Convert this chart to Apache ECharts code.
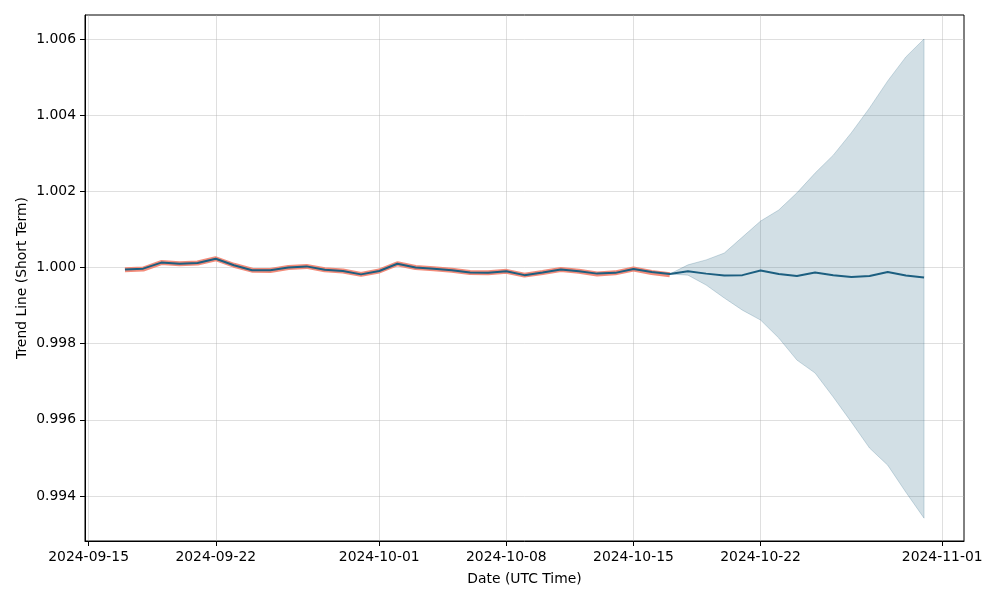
<!DOCTYPE html>
<html>
<head>
<meta charset="utf-8">
<title>Trend Line (Short Term)</title>
<script src="https://cdn.jsdelivr.net/npm/echarts@6.0.0/dist/echarts.min.js"></script>
<style>
  html, body { margin: 0; padding: 0; background: #fff; }
  #main { width: 1000px; height: 600px; }
</style>
</head>
<body>
<div id="main"></div>
<script>
// history: 2024-09-17 .. 2024-10-17, forecast: 2024-10-17 .. 2024-10-31
var histStart = "2024-09-17";
var bandStart = "2024-10-17";

var trend = [
  0.99995, 0.99997, 1.00013, 1.00010, 1.00012, 1.00023, 1.00006, 0.99993, 0.99993, 1.00000,
  1.00003, 0.99994, 0.99991, 0.99982, 0.99991, 1.00010, 1.00000, 0.99997, 0.99993, 0.99987,
  0.99986, 0.99990, 0.99980, 0.99987, 0.99995, 0.99990, 0.99984, 0.99986, 0.99996, 0.99988,
  0.99983, 0.99990, 0.99984, 0.99979, 0.99980, 0.99992, 0.99983, 0.99978, 0.99987, 0.99980,
  0.99975, 0.99978, 0.99988, 0.99979, 0.99974
];

var actual = [
  0.99994, 0.99996, 1.00013, 1.00010, 1.00012, 1.00023, 1.00006, 0.99993, 0.99992, 1.00000,
  1.00003, 0.99994, 0.99991, 0.99982, 0.99991, 1.00010, 1.00000, 0.99997, 0.99993, 0.99987,
  0.99986, 0.99990, 0.99980, 0.99987, 0.99995, 0.99990, 0.99983, 0.99986, 0.99996, 0.99987,
  0.99981
];

var upper = [
  0.99983, 1.00007, 1.00020, 1.00038, 1.00080, 1.00122, 1.00151, 1.00196, 1.00248, 1.00295,
  1.00354, 1.00419, 1.00490, 1.00553, 1.00600
];
var lower = [
  0.99983, 0.99980, 0.99954, 0.99920, 0.99888, 0.99862, 0.99815, 0.99757, 0.99723, 0.99660,
  0.99594, 0.99526, 0.99481, 0.99410, 0.99342
];

var xTicks = ["2024-09-15", "2024-09-22", "2024-10-01", "2024-10-08", "2024-10-15", "2024-10-22", "2024-11-01"];
var yTicks = [0.994, 0.996, 0.998, 1.000, 1.002, 1.004, 1.006];

var DAY = 86400000;
function ts(s) {
  var p = s.split("-");
  return Date.UTC(+p[0], +p[1] - 1, +p[2]);
}
function pad(n) { return n < 10 ? "0" + n : "" + n; }
function fmtDate(v) {
  var d = new Date(v);
  return d.getUTCFullYear() + "-" + pad(d.getUTCMonth() + 1) + "-" + pad(d.getUTCDate());
}
function pairs(start, arr) {
  var t0 = ts(start);
  return arr.map(function (v, i) { return [t0 + i * DAY, v]; });
}

var xTickVals = xTicks.map(ts);
var font = "DejaVu Sans";
var gridColor = "rgba(176,176,176,0.4)";

var bandData = upper.map(function (v, i) {
  return [ts(bandStart) + i * DAY, lower[i], v];
});

var myChart = echarts.init(document.getElementById("main"));
var option = {
  animation: false,
  grid: {
    left: 85,
    right: 36,
    top: 15,
    bottom: 59,
    show: true,
    borderColor: "#000",
    borderWidth: 1,
    backgroundColor: "transparent"
  },
  xAxis: {
    type: "value",
    min: ts("2024-09-15") - 0.2 * DAY,
    max: ts("2024-09-15") + 48.2 * DAY,
    name: "Date (UTC Time)",
    nameLocation: "middle",
    nameGap: 31,
    nameMoveOverlap: false,
    nameTextStyle: { color: "#000", fontFamily: font, fontSize: 13.9 },
    axisLine: { show: true, lineStyle: { color: "#000", width: 1 } },
    axisTick: { show: true, inside: false, length: 5, customValues: xTickVals, lineStyle: { color: "#000" } },
    axisLabel: {
      customValues: xTickVals,
      margin: 9,
      color: "#000",
      fontFamily: font,
      fontSize: 13.9,
      formatter: function (v) { return fmtDate(v); }
    },
    splitLine: { show: true, lineStyle: { color: gridColor, width: 1 } }
  },
  yAxis: {
    type: "value",
    min: 0.99282,
    max: 1.00663,
    name: "Trend Line (Short Term)",
    nameLocation: "middle",
    nameGap: 56,
    nameMoveOverlap: false,
    nameTextStyle: { color: "#000", fontFamily: font, fontSize: 13.9 },
    axisLine: { show: true, lineStyle: { color: "#000", width: 1 } },
    axisTick: { show: true, inside: false, length: 5, customValues: yTicks, lineStyle: { color: "#000" } },
    axisLabel: {
      customValues: yTicks,
      margin: 9,
      color: "#000",
      fontFamily: font,
      fontSize: 13.9,
      formatter: function (v) { return v.toFixed(3); }
    },
    splitLine: { show: true, lineStyle: { color: gridColor, width: 1 } }
  },
  series: [
    {
      // confidence band, drawn as one polygon through the axis scales
      type: "custom",
      data: bandData,
      encode: { x: 0, y: [1, 2] },
      z: 1,
      renderItem: function (params, api) {
        if (params.dataIndex !== 0) return null;
        var pts = [];
        var i;
        for (i = 0; i < bandData.length; i++) {
          pts.push(api.coord([bandData[i][0], bandData[i][2]]));
        }
        for (i = bandData.length - 1; i >= 0; i--) {
          pts.push(api.coord([bandData[i][0], bandData[i][1]]));
        }
        return {
          type: "polygon",
          shape: { points: pts },
          style: {
            fill: "rgba(31,95,127,0.2)",
            stroke: "rgba(31,95,127,0.22)",
            lineWidth: 1
          }
        };
      }
    },
    {
      type: "line",
      data: pairs(histStart, actual),
      symbol: "none",
      lineStyle: { color: "#f27f6c", width: 5, opacity: 0.9 },
      z: 2
    },
    {
      type: "line",
      data: pairs(histStart, trend),
      symbol: "none",
      lineStyle: { color: "#1c5f80", width: 2 },
      z: 3
    }
  ]
};
myChart.setOption(option);
window.addEventListener("resize", function () {
  myChart.resize();
});
</script>
</body>
</html>
